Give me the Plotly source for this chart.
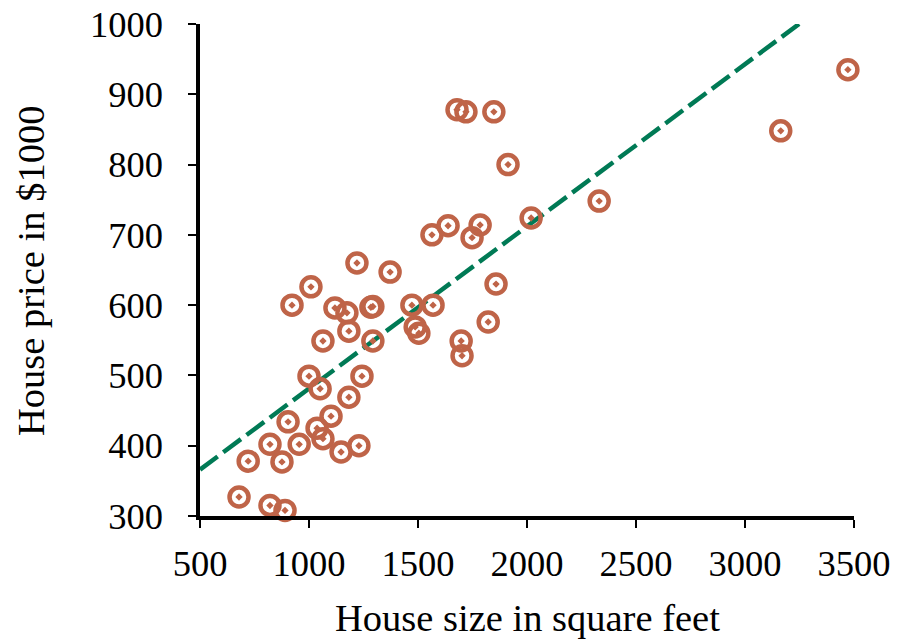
import plotly.graph_objects as go

size_sqft = [679, 821, 890, 721, 821, 876, 904, 955, 922, 1009, 1000, 1037, 1051, 1064,
             1064, 1101, 1119, 1147, 1174, 1183, 1183, 1220, 1229, 1243, 1284, 1293, 1293,
             1372, 1472, 1487, 1504, 1569, 1564, 1638, 1679, 1720, 1698, 1702, 1748, 1785,
             1822, 1848, 1858, 1913, 2019, 2331, 3164, 3472]
price_k = [327, 315, 308, 378, 402, 377, 434, 402, 600, 626, 499, 425, 481, 410,
           549, 442, 596, 391, 589, 563, 469, 660, 400, 499, 597, 598, 549,
           647, 600, 569, 560, 600, 700, 713, 878, 875, 549, 528, 696, 714,
           576, 875, 630, 800, 724, 748, 848, 935]

fit_x = [500, 3248]
fit_y = [366, 1000]

x_ticks = [500, 1000, 1500, 2000, 2500, 3000, 3500]
y_ticks = [300, 400, 500, 600, 700, 800, 900, 1000]

x_title = "House size in square feet"
y_title = "House price in $1000"

marker_color = "#BF6448"
line_color = "#007A55"
font_family = "Liberation Serif, Times New Roman, serif"

fig = go.Figure()
fig.add_trace(go.Scatter(x=fit_x, y=fit_y, mode="lines",
                         line=dict(color=line_color, width=4.5, dash="22px,7px"),
                         hoverinfo="skip", cliponaxis=False))
fig.add_trace(go.Scatter(x=size_sqft, y=price_k, mode="markers",
                         marker=dict(symbol="circle-open-dot", size=19, color=marker_color,
                                     line=dict(width=4.5, color=marker_color)),
                         cliponaxis=False))

fig.update_layout(
    width=900, height=641,
    margin=dict(l=200, r=46, t=24, b=125),
    paper_bgcolor="white", plot_bgcolor="white",
    showlegend=False,
    font=dict(family=font_family, size=37, color="black"),
    annotations=[
        dict(text=x_title, xref="paper", yref="paper", x=0.5, y=0, xanchor="center",
             yanchor="middle", yshift=-102, showarrow=False, font=dict(size=38.5)),
        dict(text=y_title, xref="paper", yref="paper", x=0, y=0.5, xanchor="center",
             yanchor="middle", xshift=-169, yshift=-1, textangle=-90, showarrow=False,
             font=dict(size=38.5)),
    ],
)
fig.update_xaxes(range=[500, 3500], tickvals=x_ticks, showgrid=False, zeroline=False,
                 showline=True, linecolor="black", linewidth=3.5, automargin=False,
                 ticks="outside", ticklen=8, tickwidth=2, tickcolor="black",
                 tickfont=dict(size=36.5), ticklabelstandoff=4, ticklabeloverflow="allow")
fig.update_yaxes(range=[300, 1000], tickvals=y_ticks, showgrid=False, zeroline=False,
                 showline=True, linecolor="black", linewidth=3.5, automargin=False,
                 ticks="outside", ticklen=8, tickwidth=2, tickcolor="black",
                 tickfont=dict(size=36.5), ticklabelstandoff=18, ticklabeloverflow="allow")

fig.write_html("out.html", config={"displayModeBar": False},
               post_script="document.body.style.margin='0';")
